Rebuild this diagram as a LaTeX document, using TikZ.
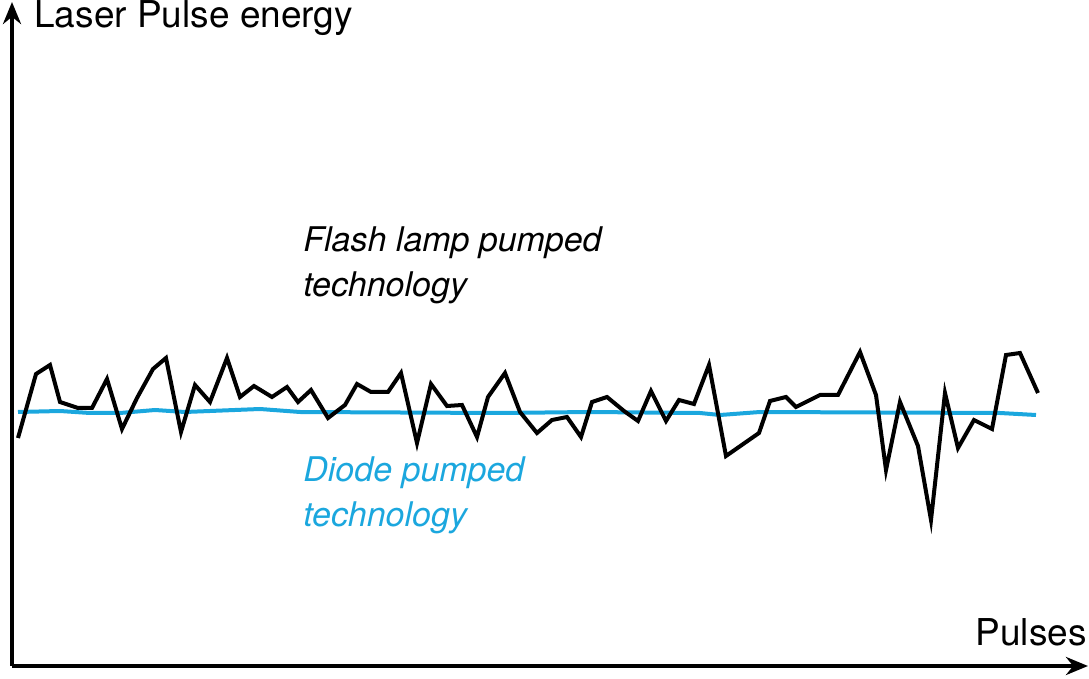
\documentclass[tikz,border=0pt]{standalone}
\usepackage{fontspec}
\setmainfont{TeX Gyre Heros}
\usetikzlibrary{arrows.meta}
\definecolor{dblue}{HTML}{1BA7DE}
\tikzset{
  axis/.style={line width=2pt,-{Stealth[length=11pt,width=9pt]}},
  curve/.style={line width=2pt,line join=miter},
  lbl/.style={inner sep=0pt,font=\fontsize{17}{22.5}\selectfont\itshape,align=left,anchor=north west},
}
\begin{document}
\begin{tikzpicture}[x=0.5pt,y=-0.5pt]
\useasboundingbox (0,0) rectangle (1089,679);
\coordinate (o) at (12,666);
\coordinate (ytop) at (12,2);
\coordinate (xend) at (1088,666);
\draw[axis] (o) -- (ytop);
\draw[axis] (o) -- (xend);
\node[inner sep=0pt,anchor=west,font=\fontsize{18.5}{22}\selectfont] (ylab) at (34,18) {Laser Pulse energy};
\node[inner sep=0pt,anchor=east,font=\fontsize{18.5}{22}\selectfont] (xlab) at (1087,632) {Pulses};
\node[lbl] (flash) at (303,226) {Flash lamp pumped\\technology};
\node[lbl,text=dblue] (diode) at (303,456) {Diode pumped\\technology};
\draw[curve,dblue] (18,412)--(60,411)--(90,413)--(120,413)--(155,410)--(185,412)--(260,409)--(300,412)--(500,413)--(590,412)--(700,413)--(720,415)--(760,412)--(1000,413)--(1036,415);
\draw[curve] (18,438)--(36,374)--(50,365)--(60,402)--(78,408)--(92,408)--(107,379)--(122,429)--(137,398)--(153,369)--(166,358)--(181,432)--(195,385)--(210,402)--(227,358)--(240,397)--(254,386)--(272,397)--(287,387)--(298,402)--(311,390)--(328,418)--(345,405)--(357,384)--(371,392)--(388,392)--(401,373)--(417,443)--(431,384)--(447,406)--(462,405)--(477,437)--(488,397)--(505,373)--(520,412)--(537,433)--(552,420)--(567,417)--(581,437)--(592,402)--(607,397)--(624,411)--(638,421)--(651,391)--(666,421)--(679,400)--(694,404)--(709,365)--(726,456)--(759,433)--(770,401)--(786,397)--(796,407)--(820,395)--(838,395)--(860,352)--(876,395)--(886,470)--(900,402)--(918,446)--(931,520)--(945,393)--(958,448)--(974,420)--(992,429)--(1006,355)--(1020,353)--(1038,393);
\end{tikzpicture}
\end{document}
